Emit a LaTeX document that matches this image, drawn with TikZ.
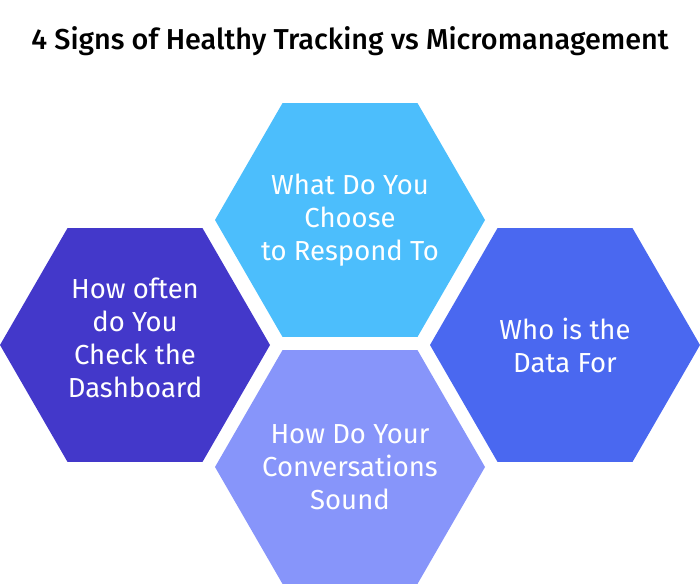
\documentclass[tikz,border=0pt]{standalone}
\usepackage{fontspec}
\setmainfont{Fira Sans}[BoldFont={* Medium}]
\usepackage{tikz}
\usetikzlibrary{shapes.geometric}
\definecolor{gokMavi}{HTML}{4CBEFC}
\definecolor{koyuLacivert}{HTML}{4338CA}
\definecolor{parlakMavi}{HTML}{4A68F0}
\definecolor{acikLavanta}{HTML}{8795FA}

\begin{document}
\begin{tikzpicture}[x=1pt,y=-1pt,
  altigen/.style={regular polygon,regular polygon sides=6,minimum size=270pt,
    inner sep=0pt,outer sep=0pt},
  yazi/.style={text=white,align=center,inner sep=0pt,
    font=\fontsize{27.5}{33}\selectfont}]
\useasboundingbox (0,0) rectangle (700,584);
\node[font=\fontsize{28.8}{32}\selectfont\bfseries] (baslik) at (350,41)
  {4 Signs of Healthy Tracking vs Micromanagement};
\node[altigen,fill=gokMavi] (tepki) at (350,220) {};
\node[altigen,fill=koyuLacivert] (siklik) at (135,345) {};
\node[altigen,fill=parlakMavi] (veri) at (565,345) {};
\node[altigen,fill=acikLavanta] (konusma) at (350,467) {};
\node[yazi] (tepkiYazi) at (tepki) {What Do You\\Choose\\to Respond To};
\node[yazi,yshift=7pt] (siklikYazi) at (siklik) {How often\\do You\\Check the\\Dashboard};
\node[yazi] (veriYazi) at (veri) {Who is the\\Data For};
\node[yazi] (konusmaYazi) at (konusma) {How Do Your\\Conversations\\Sound};
\end{tikzpicture}
\end{document}
